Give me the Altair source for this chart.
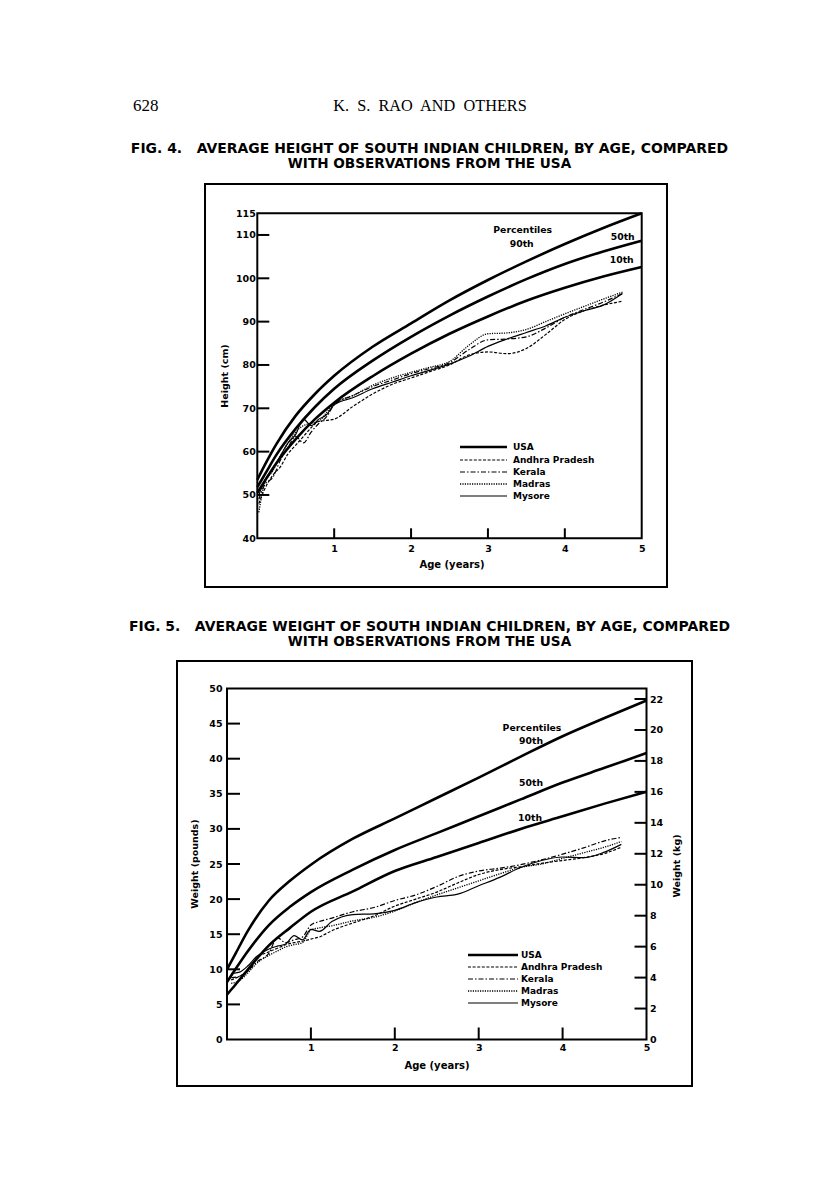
import altair as alt
import pandas as pd

# ---------------- data: Fig. 4, height (cm) ----------------
pct_age = [0, 0.1, 0.25, 0.5, 0.75, 1, 1.5, 2, 2.5, 3, 3.5, 4, 4.5, 5]
h_p90 = [53.5, 57, 61.8, 68.3, 73.3, 77.5, 84.2, 89.6, 94.9, 99.6, 103.9, 107.9, 111.6, 115]
h_p50 = [51.8, 54.8, 59.3, 65.3, 70.3, 74.5, 81, 86.5, 91.4, 95.8, 99.8, 103.3, 106.2, 108.7]
h_p10 = [50.5, 53.3, 57.4, 62.9, 67.5, 71.3, 77.4, 82.6, 87.2, 91.2, 94.8, 97.8, 100.4, 102.6]

ind_age_h = [0.02, 0.1, 0.2, 0.3, 0.4, 0.5, 0.6, 0.7, 0.8, 0.9, 1.0, 1.25, 1.5, 1.75,
             2, 2.25, 2.5, 2.75, 3, 3.25, 3.5, 3.75, 4, 4.25, 4.5, 4.75]
h_andhra = [48, 51.5, 54.5, 56.5, 59.5, 61.5, 63.5, 65.5, 67, 67.2, 67.5, 70.5, 73.3, 75.5,
            77, 78.5, 80, 82.3, 83, 82.6, 83.8, 87, 90.5, 92.5, 93.8, 94.7]
h_kerala = [49, 52.5, 54, 58, 61, 63.5, 62, 64.5, 66.5, 68, 70.8, 73, 75, 76.5,
            78, 79.2, 80.5, 83.5, 85.8, 86, 86.5, 88.5, 91, 92.8, 94.5, 96.5]
h_madras = [46, 53, 55.5, 59, 62, 64.5, 66, 66.5, 67, 69, 71, 73, 75.3, 77,
            78.3, 79.5, 80.8, 84.5, 87.2, 87.4, 88.2, 90, 91.8, 93.5, 95.2, 96.8]
h_mysore = [50, 53.5, 56, 59, 62, 64, 67.5, 66, 67.5, 68.5, 70.8, 72.5, 74.5, 76,
            77.5, 78.8, 80.2, 82, 84.3, 86, 87.5, 89, 91, 92.5, 93.8, 96.5]

# ---------------- data: Fig. 5, weight (pounds) ----------------
w_p90 = [10, 12.2, 15.5, 19.8, 22.6, 24.9, 28.6, 31.5, 34.4, 37.3, 40.3, 43.2, 45.8, 48.3]
w_p50 = [8.2, 10.0, 12.6, 16.3, 18.9, 21.0, 24.2, 27.0, 29.4, 31.8, 34.2, 36.6, 38.7, 40.8]
w_p10 = [6.4, 7.8, 10.0, 13.4, 15.9, 18.2, 21.1, 24.0, 26.0, 28.0, 30.0, 31.8, 33.6, 35.3]

ind_age_w = [0.05, 0.15, 0.25, 0.35, 0.5, 0.6, 0.7, 0.8, 0.9, 1.0, 1.1, 1.25, 1.5, 1.75,
             2, 2.25, 2.5, 2.75, 3, 3.25, 3.5, 3.75, 4, 4.25, 4.5, 4.7]
w_andhra = [8.5, 9.0, 9.8, 11.5, 12.5, 13.0, 13.5, 13.8, 14.0, 14.3, 14.6, 15.5, 16.6, 17.6,
            19.0, 20.0, 21.0, 22.3, 23.5, 24.2, 24.6, 25.1, 25.5, 25.9, 26.5, 27.4]
w_kerala = [8.8, 9.0, 9.8, 11.0, 12.3, 14.5, 13.8, 14.2, 14.6, 16.3, 16.8, 17.3, 18.2, 18.8,
            19.8, 20.6, 21.8, 23.2, 24.0, 24.4, 24.9, 25.6, 26.4, 27.3, 28.3, 28.8]
w_madras = [8.0, 8.4, 9.5, 10.8, 12.0, 12.6, 13.2, 13.5, 13.8, 15.6, 15.9, 16.2, 16.9, 17.4,
            18.3, 19.5, 20.6, 21.6, 22.6, 23.6, 24.5, 25.0, 25.8, 26.6, 27.4, 28.2]
w_mysore = [9.4, 9.6, 10.5, 11.8, 12.9, 13.3, 13.6, 14.8, 14.2, 15.7, 15.4, 16.8, 17.8, 17.9,
            18.4, 19.5, 20.3, 20.7, 21.9, 23.1, 24.5, 25.5, 26.0, 25.9, 26.7, 27.8]

# ---------------- tick labels ----------------
age_ticks = [1, 2, 3, 4]
age_labels = [1, 2, 3, 4, 5]
h_labels = [40, 50, 60, 70, 80, 90, 100, 110, 115]
h_ticks = [50, 60, 70, 80, 90, 100, 110]
lb_labels = [0, 5, 10, 15, 20, 25, 30, 35, 40, 45, 50]
lb_ticks = [5, 10, 15, 20, 25, 30, 35, 40, 45]
kg_labels = [0, 2, 4, 6, 8, 10, 12, 14, 16, 18, 20, 22]
kg_ticks = [2, 4, 6, 8, 10, 12, 14, 16, 18, 20, 22]

series = ["USA", "Andhra Pradesh", "Kerala", "Madras", "Mysore"]

# ---------------- styles ----------------
W, H = 800, 1178
SANS = "DejaVu Sans"
SERIF = "Liberation Serif"
style = {
    "USA": dict(strokeWidth=2.6),
    "Andhra Pradesh": dict(strokeWidth=1.2, strokeDash=[3, 1.6]),
    "Kerala": dict(strokeWidth=1.2, strokeDash=[5, 2, 1.5, 2]),
    "Madras": dict(strokeWidth=1.3, strokeDash=[1.2, 1.2]),
    "Mysore": dict(strokeWidth=1.2),
}
one = alt.Data(values=[{}])


def txt(s, x, y, size=9.5, font=SANS, weight="bold", angle=0, align="center"):
    kw = dict(fontSize=size, font=font, color="black", align=align, baseline="middle")
    if weight:
        kw["fontWeight"] = weight
    if angle:
        kw["angle"] = angle
    return alt.Chart(one).mark_text(**kw).encode(
        x=alt.value(x), y=alt.value(y), text=alt.value(s))


def box(x0, x1, y0, y1):
    return alt.Chart(one).mark_rect(fillOpacity=0, stroke="black", strokeWidth=2).encode(
        x=alt.value(x0), x2=alt.value(x1), y=alt.value(y0), y2=alt.value(y1))


def legend(xa, xb, xt, ys):
    out = []
    for name, yy in zip(series, ys):
        out.append(alt.Chart(one).mark_rule(color="black", **style[name]).encode(
            x=alt.value(xa), x2=alt.value(xb), y=alt.value(yy)))
        out.append(txt(name, xt, yy, size=9, align="left"))
    return out


def figure(sx, sy, axx, axy, pct, ind_age, ind, ylo, yhi, yticks, ticklen):
    X = lambda f: alt.X(f, type="quantitative", scale=sx, axis=axx)
    Y = lambda f: alt.Y(f, type="quantitative", scale=sy, axis=axy)
    layers = []
    frame = pd.DataFrame({"a0": [0], "a1": [5], "v0": [ylo], "v1": [yhi]})
    layers.append(alt.Chart(frame).mark_rect(fillOpacity=0, stroke="black", strokeWidth=2).encode(
        x=X("a0"), x2="a1", y=Y("v0"), y2="v1"))
    for vals in pct:
        d = pd.DataFrame({"age": pct_age, "v": vals})
        layers.append(alt.Chart(d).mark_line(color="black", interpolate="monotone",
                                             **style["USA"]).encode(x=X("age"), y=Y("v")))
    for name, vals in zip(series[1:], ind):
        d = pd.DataFrame({"age": ind_age, "v": vals})
        layers.append(alt.Chart(d).mark_line(color="black", interpolate="monotone",
                                             **style[name]).encode(x=X("age"), y=Y("v")))
    yt = pd.DataFrame({"v": yticks, "a": 0})
    layers.append(alt.Chart(yt).mark_rule(color="black", strokeWidth=2, x2Offset=ticklen[0]).encode(
        x=X("a"), x2="a", y=Y("v")))
    xt = pd.DataFrame({"a": age_ticks, "v": ylo})
    layers.append(alt.Chart(xt).mark_rule(color="black", strokeWidth=2, y2Offset=-ticklen[1]).encode(
        x=X("a"), y=Y("v"), y2="v"))
    return alt.layer(*layers)


axis_common = dict(grid=False, ticks=False, domain=False, labelFont=SANS, labelFontWeight="bold",
                   labelFontSize=9.5, labelColor="black", title=None, labelFlush=False,
                   labelOverlap=False)

# ---- Fig. 4 ----
x4 = [249.3, 633.7]
y4 = [530.3, 205.3]
sx4 = alt.Scale(domain=[0, 5], range=x4, nice=False, zero=False)
sy4 = alt.Scale(domain=[40, 115], range=y4, nice=False, zero=False)
ax4x = alt.Axis(values=age_labels, orient="bottom", offset=-(H - y4[0]), labelPadding=5, **axis_common)
ax4y = alt.Axis(values=h_labels, orient="left", offset=-x4[0], labelPadding=2, **axis_common)
fig4 = figure(sx4, sy4, ax4x, ax4y, [h_p90, h_p50, h_p10], ind_age_h,
              [h_andhra, h_kerala, h_madras, h_mysore], 40, 115, h_ticks, (12, 10))

# ---- Fig. 5 ----
x5 = [219.0, 638.5]
y5 = [1031.5, 680.5]
sx5 = alt.Scale(domain=[0, 5], range=x5, nice=False, zero=False)
sy5 = alt.Scale(domain=[0, 50], range=y5, nice=False, zero=False)
ax5x = alt.Axis(values=age_labels, orient="bottom", offset=-(H - y5[0]), labelPadding=3, **axis_common)
ax5y = alt.Axis(values=lb_labels, orient="left", offset=-x5[0], labelPadding=5, **axis_common)
fig5 = figure(sx5, sy5, ax5x, ax5y, [w_p90, w_p50, w_p10], ind_age_w,
              [w_andhra, w_kerala, w_madras, w_mysore], 0, 50, lb_ticks, (13, 12))

# ---- kg axis of Fig. 5 ----
skg = alt.Scale(domain=[0, 50 / 2.20462], range=y5, nice=False, zero=False)
sx5b = alt.Scale(domain=[0, 5], range=x5, nice=False, zero=False)
axkg = alt.Axis(values=kg_labels, orient="right", offset=-(W - x5[1]), labelPadding=3, **axis_common)
kgt = pd.DataFrame({"kg": kg_ticks, "a": 5})
kg = alt.Chart(kgt).mark_rule(color="black", strokeWidth=2, x2Offset=-12).encode(
    x=alt.X("a:Q", scale=sx5b, axis=None), x2="a:Q",
    y=alt.Y("kg:Q", scale=skg, axis=axkg))

deco = [
    txt("628", 125, 98, size=17, font=SERIF, weight=None, align="left"),
    txt("K.\u00a0 S.\u00a0 RAO\u00a0 AND\u00a0 OTHERS", 422, 98, size=16.3, font=SERIF, weight=None),
    txt("FIG.\u00a04.\u00a0\u00a0 AVERAGE HEIGHT OF SOUTH INDIAN CHILDREN, BY AGE, COMPARED",
        421.5, 141, size=13.95),
    txt("WITH OBSERVATIONS FROM THE USA", 421.5, 156, size=13.6),
    txt("FIG.\u00a05.\u00a0\u00a0 AVERAGE WEIGHT OF SOUTH INDIAN CHILDREN, BY AGE, COMPARED",
        421.5, 619, size=13.95),
    txt("WITH OBSERVATIONS FROM THE USA", 421.5, 634, size=13.6),
    box(197, 659, 176, 579),
    box(169, 684, 653, 1078),
    # Fig. 4 annotations
    txt("Height (cm)", 217, 368, size=9.5, angle=270),
    txt("Age (years)", 444, 557, size=10),
    txt("Percentiles", 514.7, 222, size=9.3),
    txt("90th", 513.7, 236, size=9.3),
    txt("50th", 614.7, 229.3, size=9.3),
    txt("10th", 613.7, 252, size=9.3),
    # Fig. 5 annotations
    txt("Weight (pounds)", 187, 856, size=9.5, angle=270),
    txt("Weight (kg)", 669, 858, size=9.5, angle=270),
    txt("Age (years)", 429, 1058, size=10),
    txt("Percentiles", 524, 720, size=9.3),
    txt("90th", 523, 733, size=9.3),
    txt("50th", 523, 775, size=9.3),
    txt("10th", 522, 810, size=9.3),
]
deco += legend(452, 499, 505, [439, 452, 464, 476, 488])
deco += legend(460, 510, 513, [947, 959, 971, 983, 995])

chart = alt.layer(*deco, fig4, fig5, kg).resolve_scale(
    x="independent", y="independent"
).properties(
    width=W, height=H, padding=0, background="white",
    autosize=alt.AutoSizeParams(type="none"),
).configure_view(stroke=None)

chart.save("out.html", embed_options={"renderer": "svg", "actions": False})
